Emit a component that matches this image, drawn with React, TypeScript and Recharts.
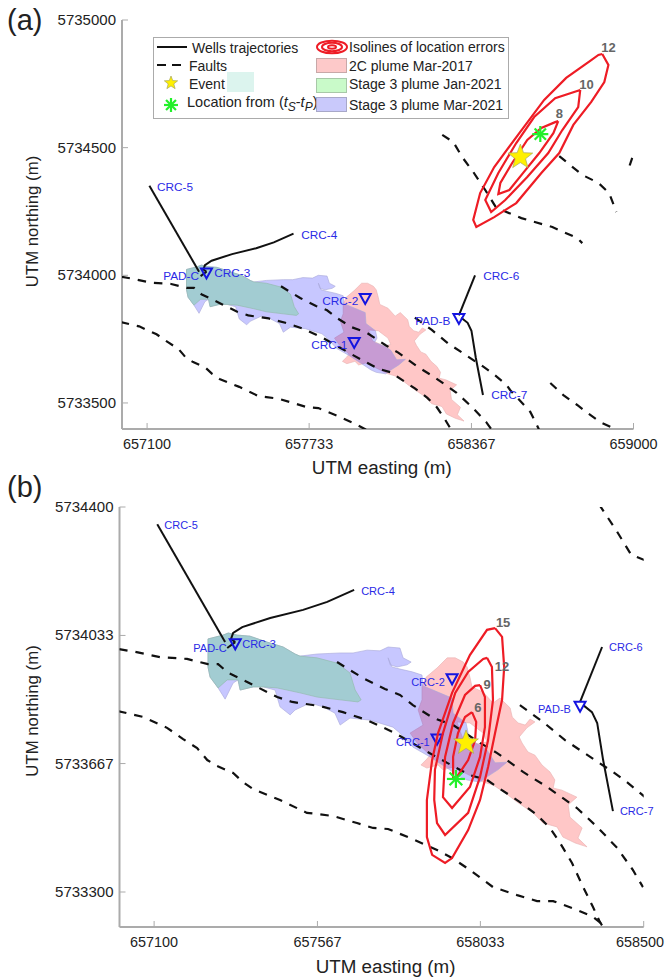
import { ScatterChart, Scatter, XAxis, YAxis, Label } from 'recharts';

type Pt = [number, number];

const FONT = '"Liberation Sans", Arial, sans-serif';
const AXIS_GRAY = '#ababab';
const WELL_BLUE = '#2a2ae6';
const RED = '#ee1c25';

// Faults, UTM easting / northing
const faultNorth: Pt[] = [[657000, 5733994], [657046, 5733986], [657117, 5733971], [657194, 5733966], [657254, 5733951], [657283, 5733951], [657312, 5733926], [657354, 5733906], [657394, 5733886], [657452, 5733857], [657495, 5733843], [657575, 5733831], [657640, 5733814], [657709, 5733791], [657783, 5733757], [657898, 5733691], [657938, 5733669], [658003, 5733634], [658052, 5733620], [658081, 5733600], [658146, 5733557], [658195, 5733520], [658232, 5733483], [658261, 5733440], [658295, 5733383], [658327, 5733314], [658355, 5733257], [658375, 5733214], [658389, 5733191]];
const faultMiddle: Pt[] = [[657623, 5733957], [657660, 5733934], [657698, 5733911], [657760, 5733880], [657803, 5733863], [657840, 5733834], [657898, 5733797], [657955, 5733777], [658032, 5733726], [658081, 5733697], [658155, 5733643], [658224, 5733600], [658309, 5733540], [658367, 5733486], [658424, 5733426], [658469, 5733363], [658498, 5733314]];
const faultPadB: Pt[] = [[658146, 5733834], [658212, 5733786], [658275, 5733734], [658347, 5733686], [658412, 5733643], [658452, 5733614], [658504, 5733571], [658518, 5733551], [658597, 5733465], [658628, 5733402], [658655, 5733335]];
const faultSouth: Pt[] = [[656997, 5733817], [657069, 5733800], [657137, 5733769], [657183, 5733737], [657223, 5733711], [657252, 5733677], [657280, 5733660], [657326, 5733640], [657354, 5733614], [657383, 5733594], [657460, 5733563], [657537, 5733526], [657566, 5733523], [657612, 5733517], [657680, 5733497], [657726, 5733483], [657769, 5733480], [657840, 5733451], [657909, 5733420], [657952, 5733397], [658003, 5733363], [658069, 5733314], [658138, 5733291], [658195, 5733274], [658241, 5733274], [658309, 5733249], [658355, 5733229], [658395, 5733197]];
const faultUpper: Pt[] = [[658253, 5734550], [658296, 5734522], [658331, 5734463], [658374, 5734405], [658421, 5734334], [658464, 5734264], [658562, 5734224], [658683, 5734189], [658780, 5734146], [658800, 5734126]];
const faultUpperEast: Pt[] = [[658710, 5734467], [658800, 5734393], [658863, 5734362], [658905, 5734322], [658933, 5734248]];
const faultStub: Pt[] = [[658995, 5734460], [658985, 5734430]];
const faultEast: Pt[] = [[658675, 5733578], [658726, 5733531], [658780, 5733492], [658820, 5733461], [658870, 5733425], [658921, 5733402], [658940, 5733383]];
const faults = [faultNorth, faultMiddle, faultPadB, faultSouth, faultUpper, faultUpperEast, faultStub, faultEast];

// Plumes
const plume2C: Pt[] = [[657938, 5733969], [657961, 5733969], [657984, 5733957], [657995, 5733943], [658003, 5733914], [658009, 5733886], [658041, 5733871], [658069, 5733840], [658089, 5733854], [658118, 5733826], [658124, 5733800], [658141, 5733783], [658161, 5733777], [658175, 5733794], [658189, 5733786], [658166, 5733769], [658144, 5733743], [658152, 5733726], [658169, 5733700], [658189, 5733691], [658209, 5733663], [658232, 5733643], [658246, 5733620], [658241, 5733597], [658266, 5733591], [658309, 5733571], [658284, 5733549], [658289, 5733514], [658324, 5733483], [658312, 5733454], [658338, 5733429], [658304, 5733440], [658269, 5733457], [658252, 5733486], [658212, 5733497], [658184, 5733526], [658138, 5733557], [658104, 5733583], [658069, 5733606], [658041, 5733614], [657955, 5733657], [657926, 5733649], [657912, 5733663], [657880, 5733654], [657863, 5733663], [657880, 5733680], [657889, 5733691], [657852, 5733726], [657832, 5733754], [657869, 5733777], [657855, 5733820], [657866, 5733849], [657866, 5733886], [657878, 5733914], [657909, 5733940]];
const plumeHole: Pt[] = [[657966, 5733786], [658003, 5733783], [658041, 5733754], [658052, 5733729], [658026, 5733723], [657981, 5733743]];
const plumeMar2021: Pt[] = [[657254, 5734023], [657297, 5734034], [657312, 5734040], [657337, 5734034], [657374, 5734031], [657423, 5734014], [657469, 5734000], [657503, 5733980], [657517, 5733974], [657566, 5733980], [657632, 5733983], [657669, 5733983], [657709, 5733991], [657746, 5733989], [657769, 5734000], [657803, 5733997], [657812, 5733969], [657835, 5733957], [657823, 5733949], [657795, 5733943], [657775, 5733949], [657769, 5733969], [657780, 5733943], [657803, 5733937], [657838, 5733929], [657866, 5733920], [657869, 5733889], [657952, 5733854], [657955, 5733811], [657992, 5733783], [657998, 5733754], [657989, 5733737], [658032, 5733720], [658052, 5733706], [658075, 5733669], [658109, 5733671], [658083, 5733649], [658052, 5733629], [658032, 5733614], [657995, 5733620], [657975, 5733629], [657938, 5733654], [657889, 5733686], [657840, 5733714], [657803, 5733754], [657783, 5733771], [657718, 5733791], [657660, 5733797], [657632, 5733777], [657617, 5733811], [657583, 5733829], [657546, 5733840], [657503, 5733820], [657489, 5733806], [657460, 5733829], [657446, 5733877], [657412, 5733886], [657383, 5733886], [657346, 5733877], [657340, 5733906], [657326, 5733897], [657303, 5733851], [657283, 5733883], [657260, 5733914], [657254, 5733943]];
const plumeJan2021: Pt[] = [[657254, 5734023], [657297, 5734034], [657312, 5734040], [657337, 5734034], [657374, 5734031], [657423, 5734014], [657469, 5734000], [657503, 5733980], [657517, 5733974], [657566, 5733969], [657623, 5733954], [657660, 5733926], [657675, 5733877], [657692, 5733849], [657683, 5733843], [657632, 5733849], [657566, 5733857], [657517, 5733869], [657452, 5733883], [657412, 5733886], [657383, 5733886], [657346, 5733877], [657340, 5733906], [657309, 5733906], [657283, 5733883], [657260, 5733914], [657254, 5733943]];

// Well trajectories
const wellCrc5: Pt[] = [[657109, 5734351], [657303, 5734014]];
const wellCrc3: Pt[] = [[657309, 5733997], [657332, 5734014]];
const wellCrc4: Pt[] = [[657332, 5734014], [657320, 5734023], [657326, 5734040], [657352, 5734057], [657432, 5734083], [657526, 5734106], [657595, 5734129], [657672, 5734163]];
const wellCrc6: Pt[] = [[658381, 5734000], [658318, 5733843]];
const wellCrc7: Pt[] = [[658327, 5733834], [658352, 5733814], [658367, 5733783], [658384, 5733677], [658412, 5733531]];
const wells = [wellCrc5, wellCrc3, wellCrc4, wellCrc6, wellCrc7];
const wellHeads: Pt[] = [[657332, 5734009], [657952, 5733909], [657909, 5733737], [658318, 5733831]];

// Isolines of location errors
const isolinesA: Pt[][] = [
  [[658878, 5734867], [658902, 5734824], [658886, 5734757], [658835, 5734679], [658765, 5734589], [658710, 5734479], [658640, 5734401], [658542, 5734283], [658456, 5734228], [658386, 5734189], [658374, 5734217], [658401, 5734322], [658456, 5734424], [658554, 5734557], [658651, 5734687], [658737, 5734773], [658835, 5734843], [658863, 5734863]],
  [[658792, 5734726], [658784, 5734659], [658722, 5734569], [658667, 5734479], [658585, 5734385], [658499, 5734295], [658444, 5734248], [658421, 5734295], [658472, 5734401], [658542, 5734518], [658612, 5734620], [658694, 5734694], [658780, 5734722]],
  [[658706, 5734604], [658687, 5734557], [658632, 5734479], [658569, 5734401], [658515, 5734334], [658472, 5734318], [658480, 5734362], [658526, 5734440], [658585, 5734530], [658640, 5734577], [658694, 5734600]],
];
const isolinesB: Pt[][] = [
  [[658075, 5734054], [658095, 5734029], [658101, 5733943], [658095, 5733849], [658075, 5733754], [658055, 5733657], [658032, 5733563], [657998, 5733477], [657952, 5733397], [657932, 5733383], [657895, 5733406], [657880, 5733457], [657880, 5733563], [657895, 5733677], [657912, 5733754], [657952, 5733869], [658003, 5733977], [658052, 5734049]],
  [[658052, 5733969], [658066, 5733943], [658069, 5733849], [658055, 5733734], [658032, 5733629], [657998, 5733526], [657932, 5733463], [657909, 5733497], [657901, 5733563], [657903, 5733649], [657926, 5733754], [657961, 5733869], [657998, 5733929], [658041, 5733966]],
  [[658032, 5733891], [658046, 5733857], [658046, 5733771], [658032, 5733686], [658003, 5733600], [657952, 5733540], [657926, 5733571], [657932, 5733686], [657955, 5733783], [657989, 5733863], [658018, 5733889]],
  [[658009, 5733814], [658021, 5733786], [658018, 5733734], [657998, 5733677], [657966, 5733629], [657955, 5733626], [657955, 5733686], [657969, 5733754], [657989, 5733800]],
];

const eventA: Pt[] = [[658558, 5734463]];
const eventB: Pt[] = [[657992, 5733726]];
const tsTpA: Pt[] = [[658636, 5734553]];
const tsTpB: Pt[] = [[657963, 5733623]];

const wellLabelsA = [
  { label: 'CRC-5', x: 657139, y: 5734346 },
  { label: 'CRC-4', x: 657702, y: 5734158 },
  { label: 'CRC-3', x: 657362, y: 5734009 },
  { label: 'PAD-C', x: 657163, y: 5733997 },
  { label: 'CRC-2', x: 657784, y: 5733899 },
  { label: 'CRC-1', x: 657741, y: 5733727 },
  { label: 'CRC-6', x: 658413, y: 5733997 },
  { label: 'PAD-B', x: 658147, y: 5733821 },
  { label: 'CRC-7', x: 658444, y: 5733531 },
];
const wellLabelsB = [
  { label: 'CRC-5', x: 657129, y: 5734349 },
  { label: 'CRC-4', x: 657692, y: 5734160 },
  { label: 'CRC-3', x: 657352, y: 5734009 },
  { label: 'PAD-C', x: 657212, y: 5733997 },
  { label: 'CRC-2', x: 657835, y: 5733900 },
  { label: 'CRC-1', x: 657792, y: 5733729 },
  { label: 'CRC-6', x: 658401, y: 5734000 },
  { label: 'PAD-B', x: 658198, y: 5733823 },
  { label: 'CRC-7', x: 658432, y: 5733531 },
];
const isoLabelsA = [
  { label: '12', x: 658902, y: 5734894 },
  { label: '10', x: 658816, y: 5734749 },
  { label: '8', x: 658710, y: 5734632 },
];
const isoLabelsB = [
  { label: '15', x: 658098, y: 5734069 },
  { label: '12', x: 658095, y: 5733943 },
  { label: '9', x: 658052, y: 5733894 },
  { label: '6', x: 658026, y: 5733826 },
];

const xTicksA = [657100, 657733, 658367, 659000];
const yTicksA = [5733500, 5734000, 5734500, 5735000];
const xTicksB = [657100, 657567, 658033, 658500];
const yTicksB = [5733300, 5733667, 5734033, 5734400];

const toRows = (pts: Pt[]) => pts.map(([x, y]) => ({ x, y }));
const closeRing = (pts: Pt[]) => [...pts, pts[0]];

const polygon = (fill: string, stroke: string) => (p: any) => (
  <polygon
    points={p.points.map((q: any) => `${q.x},${q.y}`).join(' ')}
    fill={fill}
    stroke={stroke}
    strokeWidth={0.6}
  />
);

function starPoints(cx: number, cy: number, r: number) {
  const out: string[] = [];
  for (let i = 0; i < 10; i++) {
    const rad = i % 2 === 0 ? r : r * 0.42;
    const a = (Math.PI / 5) * i - Math.PI / 2;
    out.push(`${cx + rad * Math.cos(a)},${cy + rad * Math.sin(a)}`);
  }
  return out.join(' ');
}

const StarMark = ({ cx, cy, r }: any) => (
  <polygon points={starPoints(cx, cy, r)} fill="#fff000" stroke="#a8a860" strokeWidth={0.7} />
);

const Asterisk = ({ cx, cy, r }: any) => (
  <g stroke="#22f02a" strokeWidth={2.2}>
    {[0, 45, 90, 135].map((d) => {
      const a = (d * Math.PI) / 180;
      return (
        <line
          key={d}
          x1={cx - r * Math.cos(a)}
          y1={cy - r * Math.sin(a)}
          x2={cx + r * Math.cos(a)}
          y2={cy + r * Math.sin(a)}
        />
      );
    })}
  </g>
);

const Triangle = ({ cx, cy }: any) => (
  <polygon
    points={`${cx - 5.5},${cy - 4.5} ${cx + 5.5},${cy - 4.5} ${cx},${cy + 5.5}`}
    fill="none"
    stroke="#1414e0"
    strokeWidth={2}
  />
);

const XTick = ({ x, y, payload }: any) => (
  <g>
    <line x1={x} x2={x} y1={y} y2={y - 6} stroke={AXIS_GRAY} strokeWidth={1} />
    {/* the right-most label of panel b would run off the page */}
    <text x={Math.min(x, 640)} y={y + 20} textAnchor="middle" fontSize={14.4} fontFamily={FONT} fill="#222">
      {payload.value}
    </text>
  </g>
);

const YTick = ({ x, y, payload }: any) => (
  <g>
    <line x1={x} x2={x + 6} y1={y} y2={y} stroke={AXIS_GRAY} strokeWidth={1} />
    <text x={x - 6} y={y + 5} textAnchor="end" fontSize={15} fontFamily={FONT} fill="#222">
      {payload.value}
    </text>
  </g>
);

function Panel({ cfg }: { cfg: any }) {
  const noMark = () => null;
  return (
    <ScatterChart
      width={666}
      height={cfg.height}
      margin={{ top: cfg.top, right: cfg.right, bottom: 0, left: 0 }}
    >
      <XAxis
        type="number"
        dataKey="x"
        domain={cfg.xDomain}
        ticks={cfg.xTicks}
        interval={0}
        allowDataOverflow
        height={cfg.bottom}
        tickLine={false}
        tickSize={0}
        tickMargin={0}
        tick={<XTick />}
        axisLine={{ stroke: AXIS_GRAY, strokeWidth: 2 }}
      >
        <Label value="UTM easting (m)" position="center" dy={cfg.xTitleDy} dx={4} fontSize={18.8} fontFamily={FONT} fill="#222" />
      </XAxis>
      <YAxis
        type="number"
        dataKey="y"
        domain={cfg.yDomain}
        ticks={cfg.yTicks}
        interval={0}
        allowDataOverflow
        width={cfg.left}
        tickLine={false}
        tickSize={0}
        tickMargin={0}
        tick={<YTick />}
        axisLine={{ stroke: AXIS_GRAY, strokeWidth: 2 }}
      >
        <Label value="UTM northing (m)" position="center" angle={-90} dx={32 - cfg.left / 2} dy={cfg.yTitleDy} fontSize={16.8} fontFamily={FONT} fill="#222" />
      </YAxis>
      {/* same domains, no overflow clipping, so well labels can pass the plot edge */}
      <XAxis xAxisId="free" type="number" dataKey="x" domain={cfg.xDomain} hide />
      <YAxis yAxisId="free" type="number" dataKey="y" domain={cfg.yDomain} hide />

      <Scatter data={toRows(plume2C)} line={polygon('rgba(255,0,0,0.22)', '#e8b0b0')} shape={noMark} isAnimationActive={false} />
      <Scatter data={toRows(plumeHole)} line={polygon('#ffffff', '#e8b0b0')} shape={noMark} isAnimationActive={false} />
      <Scatter data={toRows(plumeMar2021)} line={polygon('rgba(0,0,255,0.22)', '#a8a8d8')} shape={noMark} isAnimationActive={false} />
      <Scatter data={toRows(plumeJan2021)} line={polygon('#a2ccd2', '#90b8a8')} shape={noMark} isAnimationActive={false} />

      {faults.map((f, i) => (
        <Scatter
          key={`fault-${i}`}
          data={toRows(f)}
          line={{ stroke: '#111', strokeWidth: 2.2, strokeDasharray: '8.5 8' }}
          lineJointType="linear"
          shape={noMark}
          isAnimationActive={false}
        />
      ))}
      {wells.map((w, i) => (
        <Scatter
          key={`well-${i}`}
          data={toRows(w)}
          line={{ stroke: '#111', strokeWidth: 2 }}
          lineJointType="linear"
          shape={noMark}
          isAnimationActive={false}
        />
      ))}
      <Scatter data={toRows(wellHeads)} shape={<Triangle />} isAnimationActive={false} />

      {cfg.isolines.map((c: Pt[], i: number) => (
        <Scatter
          key={`iso-${i}`}
          data={toRows(closeRing(c))}
          line={{ stroke: RED, strokeWidth: 2.2 }}
          lineJointType="linear"
          shape={noMark}
          isAnimationActive={false}
        />
      ))}
      <Scatter data={toRows(cfg.event)} shape={(p: any) => <StarMark cx={p.cx} cy={p.cy} r={cfg.starR} />} isAnimationActive={false} />
      <Scatter data={toRows(cfg.tsTp)} shape={(p: any) => <Asterisk cx={p.cx} cy={p.cy} r={cfg.astR} />} isAnimationActive={false} />

      <Scatter
        xAxisId="free"
        yAxisId="free"
        data={cfg.wellLabels}
        shape={(p: any) => (
          <text x={p.cx} y={p.cy + 4} fontSize={cfg.labelSize} fontFamily={FONT} fill={WELL_BLUE}>
            {p.payload.label}
          </text>
        )}
        isAnimationActive={false}
      />
      <Scatter
        xAxisId="free"
        yAxisId="free"
        data={cfg.isoLabels}
        shape={(p: any) => (
          <text x={p.cx} y={p.cy + 4.5} textAnchor="middle" fontSize={13} fontWeight="bold" fontFamily={FONT} fill="#666">
            {p.payload.label}
          </text>
        )}
        isAnimationActive={false}
      />
    </ScatterChart>
  );
}

const panelA = {
  height: 480,
  top: 20,
  right: 32.5,
  left: 122,
  bottom: 51,
  xTitleDy: 13,
  yTitleDy: -3,
  xDomain: [657002, 659000],
  yDomain: [5733398, 5735000],
  xTicks: xTicksA,
  yTicks: yTicksA,
  isolines: isolinesA,
  event: eventA,
  tsTp: tsTpA,
  starR: 13,
  astR: 8,
  labelSize: 11.8,
  wellLabels: wellLabelsA,
  isoLabels: isoLabelsA,
};
const panelB = {
  height: 499,
  top: 27,
  right: 22.3,
  left: 119.5,
  bottom: 52,
  xTitleDy: 13,
  yTitleDy: -6,
  xDomain: [657001, 658500],
  yDomain: [5733200, 5734400],
  xTicks: xTicksB,
  yTicks: yTicksB,
  isolines: isolinesB,
  event: eventB,
  tsTp: tsTpB,
  starR: 13,
  astR: 9,
  labelSize: 11,
  wellLabels: wellLabelsB,
  isoLabels: isoLabelsB,
};

const legendText: any = { position: 'absolute', fontSize: 14, fontFamily: FONT, color: '#222', whiteSpace: 'nowrap', lineHeight: '16px' };
const swatch = (left: number, top: number, background: string, border: string): any => ({
  position: 'absolute', left, top, width: 29, height: 13, background, border: `1px solid ${border}`,
});
const subStyle = { fontSize: 12, lineHeight: 0 };

function LegendBox() {
  return (
    <div style={{ position: 'absolute', left: 0, top: 0, width: 666, height: 130, pointerEvents: 'none' }}>
      <div style={{ position: 'absolute', left: 153, top: 37, width: 354, height: 80, border: `1.5px solid ${AXIS_GRAY}`, background: '#fff' }} />
      <div style={{ position: 'absolute', left: 227, top: 72, width: 27, height: 20, background: '#dcf4ee' }} />
      <svg width={666} height={130} style={{ position: 'absolute', left: 0, top: 0 }}>
        <line x1={157} x2={187} y1={47} y2={47} stroke="#111" strokeWidth={2} />
        <line x1={157} x2={181} y1={65} y2={65} stroke="#111" strokeWidth={2} strokeDasharray="9 6" />
        <StarMark cx={171} cy={83} r={7} />
        <Asterisk cx={171} cy={105} r={7} />
        {[15, 10, 4].map((rx) => (
          <ellipse key={rx} cx={332} cy={47} rx={rx} ry={rx * 0.42} fill="none" stroke={RED} strokeWidth={2} />
        ))}
      </svg>
      <div style={{ ...legendText, left: 192, top: 40 }}>Wells trajectories</div>
      <div style={{ ...legendText, left: 189, top: 58 }}>Faults</div>
      <div style={{ ...legendText, left: 189, top: 76 }}>Event</div>
      <div style={{ ...legendText, left: 187, top: 94, fontSize: 14.5 }}>
        Location from (<i>t</i><sub style={subStyle}><i>S</i></sub>-<i>t</i><sub style={subStyle}><i>P</i></sub>)
      </div>
      <div style={{ ...legendText, left: 349, top: 39 }}>Isolines of location errors</div>
      <div style={swatch(316, 58, '#fdc9c9', '#c8a8a8')} />
      <div style={{ ...legendText, left: 349, top: 58 }}>2C plume Mar-2017</div>
      <div style={swatch(316, 78, '#c9fac9', '#a8c8a8')} />
      <div style={{ ...legendText, left: 349, top: 76 }}>Stage 3 plume Jan-2021</div>
      <div style={swatch(316, 97, '#c9c9fb', '#a8a8c8')} />
      <div style={{ ...legendText, left: 349, top: 97 }}>Stage 3 plume Mar-2021</div>
    </div>
  );
}

export default function App() {
  return (
    <div style={{ position: 'absolute', left: 0, top: 0, width: 666, height: 979, background: '#fff', overflow: 'hidden' }}>
      <div style={{ position: 'absolute', left: 0, top: 0 }}>
        <Panel cfg={panelA} />
      </div>
      <div style={{ position: 'absolute', left: 0, top: 480 }}>
        <Panel cfg={panelB} />
      </div>
      <LegendBox />
      <div style={{ position: 'absolute', left: 7, top: 4, fontSize: 29, fontFamily: FONT, color: '#222' }}>(a)</div>
      <div style={{ position: 'absolute', left: 7, top: 471, fontSize: 29, fontFamily: FONT, color: '#222' }}>(b)</div>
    </div>
  );
}
